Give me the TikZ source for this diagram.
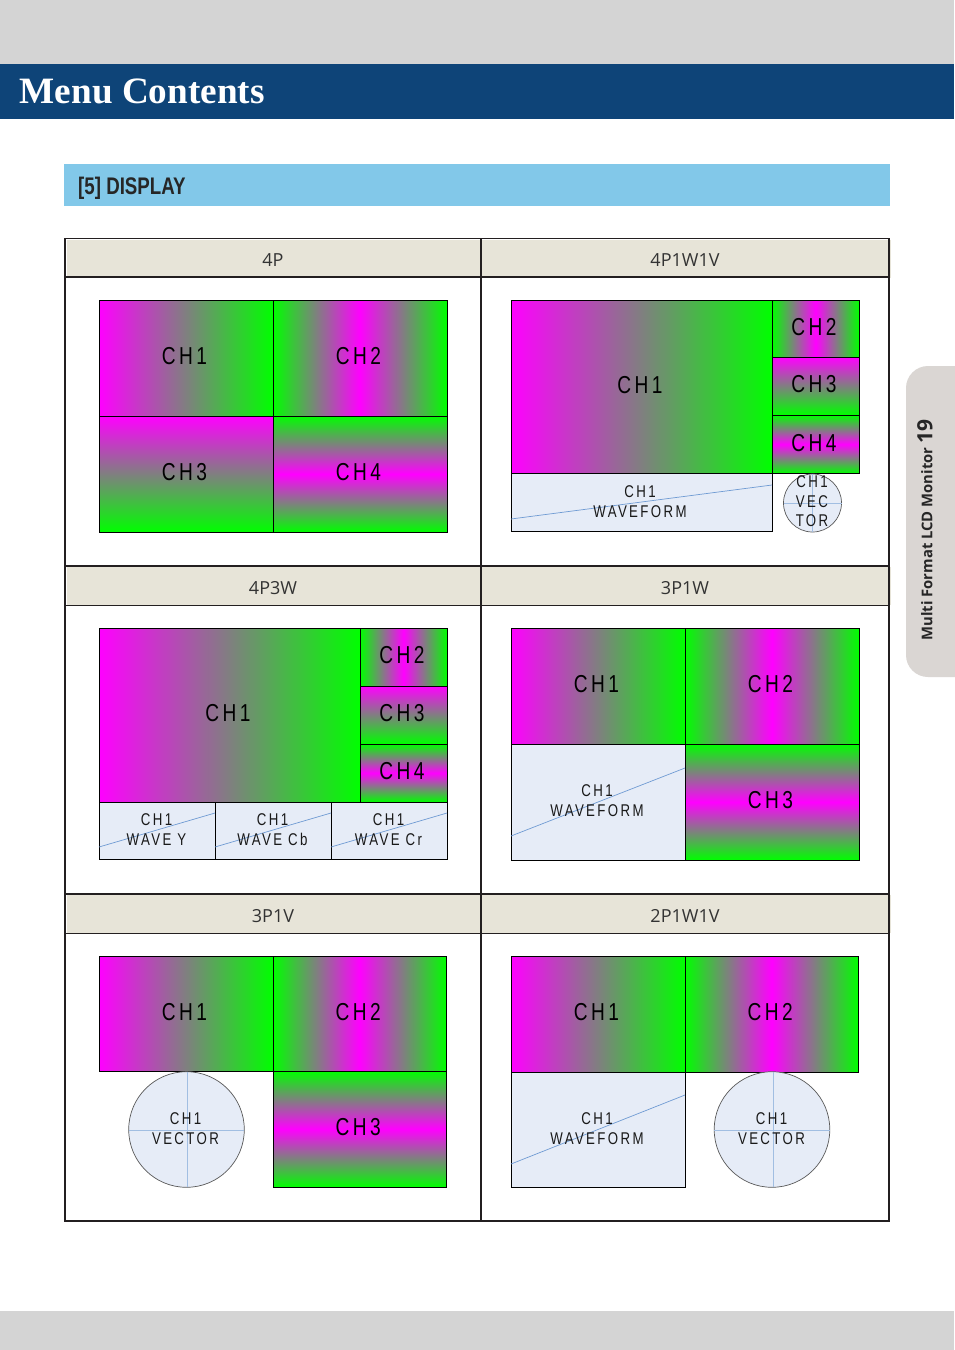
\documentclass[tikz,border=0pt]{standalone}
\usepackage{fontspec}
\setmainfont{Liberation Serif}
\newfontfamily\chfont[FakeStretch=0.78,LetterSpace=14]{Liberation Sans}
\newfontfamily\barfont[FakeStretch=0.78]{Liberation Sans}
\newfontfamily\headfont{Open Sans}
\definecolor{pagegray}{HTML}{D4D4D4}
\definecolor{titleblue}{HTML}{0E4478}
\definecolor{barblue}{HTML}{82C8E9}
\definecolor{headbeige}{HTML}{E7E4D8}
\definecolor{tablegray}{HTML}{231F20}
\definecolor{tabgray}{HTML}{DAD6D3}
\definecolor{scopefill}{HTML}{E6ECF7}
\definecolor{traceblue}{HTML}{6F9BD3}
\tikzset{
    chone/.style={draw=black,line width=1pt,left color=magenta,right color=green},
    chtwo/.style={draw=black,line width=1pt,left color=green,right color=green,middle color=magenta},
    chthree/.style={draw=black,line width=1pt,top color=magenta,bottom color=green},
    chfour/.style={draw=black,line width=1pt,top color=green,bottom color=green,middle color=magenta},
    scopebox/.style={draw=black,line width=1pt,fill=scopefill},
    scopedisc/.style={draw=black!65,line width=0.7pt,fill=scopefill},
    trace/.style={draw=traceblue,line width=0.7pt},
    cross/.style={draw=traceblue!65,line width=0.9pt},
    biglabel/.style={inner sep=0pt,xshift=-1.5pt,yshift=1.5pt,text=black,font=\chfont\fontsize{24.5}{24.5}\selectfont},
    smalllabel/.style={inner sep=0pt,align=center,text=black!90,font=\chfont\fontsize{17}{20}\selectfont},
    headcell/.style={fill=headbeige,inner sep=0pt,outer sep=0pt,minimum height=38pt,text height=16pt,text depth=0pt,text=black!80,font=\headfont\fontsize{18}{20}\selectfont},
    gridline/.style={draw=tablegray,line width=2pt}
}
\begin{document}
\begin{tikzpicture}[x=1pt,y=-1pt]
        \useasboundingbox (0,0) rectangle (954,1350);
        \fill[white] (0,0) rectangle (954,1350);
        \fill[pagegray] (0,0) rectangle (954,64);
        \fill[pagegray] (0,1311) rectangle (954,1350);
        \fill[titleblue] (0,64) rectangle (954,119);
        \node[right,inner sep=0pt,text=white] (title) at (19.5,91) {\fontsize{37.2}{38}\selectfont\bfseries Menu Contents};
        \fill[barblue] (64,164) rectangle (890,206);
        \node[right,inner sep=0pt,text=black!85] (section) at (78,188) {\barfont\fontsize{24}{24}\selectfont\bfseries [5] DISPLAY};
        \fill[tabgray,rounded corners=22pt] (980,366) -- (906,366) -- (906,677) -- (980,677) -- cycle;
        \node[rotate=90,inner sep=0pt,text=black!85] (tab) at (925,530) {\headfont\fontsize{14.8}{15}\selectfont\bfseries Multi Format LCD Monitor \fontsize{21}{21}\selectfont 19};

        \foreach \name/\x/\y/\txt in {fourp/273/258.5/4P,fourw/685/258.5/4P1W1V,threew/273/586/4P3W,threep/685/586/3P1W,threev/273/914/3P1V,twop/685/914/2P1W1V}{
            \node[headcell,minimum width=412pt] (\name) at (\x,\y) {\txt};
        }
        \foreach \y in {277,566,894,1221}{
            \draw[gridline] (65,\y)--(889,\y);
        }
        \foreach \y in {238.5,605,933}{
            \draw[draw=tablegray,line width=1pt] (65,\y)--(889,\y);
        }
        \draw[gridline] (65,238)--(65,1222);
        \draw[gridline] (481,238)--(481,1222);
        \draw[gridline] (889,238)--(889,1222);

        \draw[chone] (99,300) rectangle (273,416) node[midway,biglabel] (a1) {CH1};
        \draw[chtwo] (273,300) rectangle (447,416) node[midway,biglabel] (a2) {CH2};
        \draw[chthree] (99,416) rectangle (273,532) node[midway,biglabel] (a3) {CH3};
        \draw[chfour] (273,416) rectangle (447,532) node[midway,biglabel] (a4) {CH4};

        \draw[chone] (511,300) rectangle (772,473.5) node[midway,biglabel] (b1) {CH1};
        \draw[chtwo] (772,300) rectangle (859,357) node[midway,biglabel] (b2) {CH2};
        \draw[chthree] (772,357) rectangle (859,415) node[midway,biglabel] (b3) {CH3};
        \draw[chfour] (772,415) rectangle (859,473.5) node[midway,biglabel] (b4) {CH4};
        \draw[scopebox] (511,473.5) rectangle (772,531);
        \draw[trace] (511,519)--(772,485);
        \node[smalllabel] (bw) at (640,502) {CH1\\WAVEFORM};
        \draw[scopedisc] (812.5,503) circle[radius=29];
        \draw[cross] (783.5,503)--(841.5,503);
        \draw[cross] (812.5,474)--(812.5,532);
        \node[smalllabel,font=\chfont\fontsize{17}{19.5}\selectfont] (bv) at (812,501.5) {CH1\\VEC\\TOR};

        \draw[chone] (99,628) rectangle (360,802) node[midway,biglabel] (c1) {CH1};
        \draw[chtwo] (360,628) rectangle (447,686) node[midway,biglabel] (c2) {CH2};
        \draw[chthree] (360,686) rectangle (447,744) node[midway,biglabel] (c3) {CH3};
        \draw[chfour] (360,744) rectangle (447,802) node[midway,biglabel] (c4) {CH4};
        \draw[scopebox] (99,802) rectangle (215,859);
        \draw[scopebox] (215,802) rectangle (331,859);
        \draw[scopebox] (331,802) rectangle (447,859);
        \draw[trace] (99,847)--(215,813);
        \draw[trace] (215,847)--(331,813);
        \draw[trace] (331,847)--(447,813);
        \node[smalllabel] (cy) at (156.5,830) {CH1\\WAVE Y};
        \node[smalllabel] (cb) at (272.5,830) {CH1\\WAVE Cb};
        \node[smalllabel] (cr) at (388.5,830) {CH1\\WAVE Cr};

        \draw[chone] (511,628) rectangle (685,744) node[midway,biglabel] (d1) {CH1};
        \draw[chtwo] (685,628) rectangle (859,744) node[midway,biglabel] (d2) {CH2};
        \draw[chfour] (685,744) rectangle (859,860) node[midway,biglabel] (d3) {CH3};
        \draw[scopebox] (511,744) rectangle (685,860);
        \draw[trace] (511,836)--(685,768);
        \node[smalllabel] (dw) at (597,801) {CH1\\WAVEFORM};

        \draw[chone] (99,956) rectangle (273,1071) node[midway,biglabel] (e1) {CH1};
        \draw[chtwo] (273,956) rectangle (446.5,1071) node[midway,biglabel] (e2) {CH2};
        \draw[chfour] (273,1071) rectangle (446.5,1187) node[midway,biglabel] (e3) {CH3};
        \draw[scopedisc] (186.5,1129.5) circle[radius=57.8];
        \draw[cross] (128.7,1130.5)--(244.3,1130.5);
        \draw[cross] (187.5,1072)--(187.5,1187);
        \node[smalllabel] (ev) at (185.5,1128.5) {CH1\\VECTOR};

        \draw[chone] (511,956) rectangle (685,1072) node[midway,biglabel] (f1) {CH1};
        \draw[chtwo] (685,956) rectangle (858.5,1072) node[midway,biglabel] (f2) {CH2};
        \draw[scopebox] (511,1072) rectangle (685,1187);
        \draw[trace] (511,1164)--(685,1095);
        \node[smalllabel] (fw) at (597,1128.5) {CH1\\WAVEFORM};
        \draw[scopedisc] (772,1129.5) circle[radius=57.8];
        \draw[cross] (714.2,1130.5)--(829.8,1130.5);
        \draw[cross] (773,1072)--(773,1187);
        \node[smalllabel] (fv) at (771.5,1128.5) {CH1\\VECTOR};
    \end{tikzpicture}
\end{document}
